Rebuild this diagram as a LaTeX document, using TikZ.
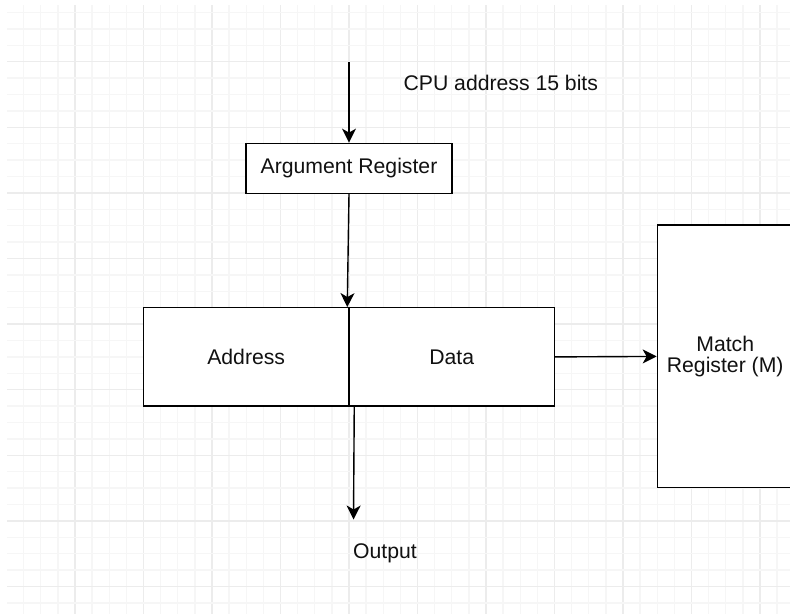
\documentclass[tikz,border=0pt]{standalone}
\usepackage{fontspec}
\setmainfont{Liberation Sans}
\usetikzlibrary{arrows.meta}
\definecolor{gridminor}{HTML}{F6F6F6}
\definecolor{gridmajor}{HTML}{ECECEC}
\definecolor{txt}{HTML}{111111}
\tikzset{
  box/.style={draw=black, line width=1.4pt, fill=white, inner sep=0pt, text=txt,
    font=\fontsize{21.2}{24.5}\selectfont, align=center},
  label/.style={text=txt, inner sep=0pt, font=\fontsize{21.2}{24.5}\selectfont},
  conn/.style={draw=black, line width=1.4pt, -{Stealth[length=14pt,width=14pt,inset=4pt]}},
  plain/.style={draw=black, line width=1.4pt}
}
\begin{document}
\begin{tikzpicture}[x=1pt,y=-1pt]
\useasboundingbox (0,0) rectangle (790,614);
\clip (0,0) rectangle (790,614);
\fill[white] (0,0) rectangle (790,614);
% grid
\begin{scope}
\clip (7,5) rectangle (790,614);
\foreach \k in {-3,...,41}{
  \pgfmathsetmacro{\xx}{75+17.125*\k}
  \pgfmathtruncatemacro{\mm}{mod(\k+40,4)}
  \ifnum\mm=0
    \draw[gridmajor, line width=1.3pt] (\xx,0) -- (\xx,614);
  \else
    \draw[gridminor, line width=1.3pt] (\xx,0) -- (\xx,614);
  \fi
}
\foreach \k in {-3,...,33}{
  \pgfmathsetmacro{\yy}{61.7+16.4*\k}
  \pgfmathtruncatemacro{\mm}{mod(\k+40,4)}
  \ifnum\mm=0
    \draw[gridmajor, line width=1.3pt] (0,\yy) -- (790,\yy);
  \else
    \draw[gridminor, line width=1.3pt] (0,\yy) -- (790,\yy);
  \fi
}
\end{scope}
% nodes
\coordinate (cpuin) at (349,62);
\node[label] (cpu) at (500.8,83.3) {CPU address 15 bits};
\node[box, minimum width=206, minimum height=50] (arg) at (349,168.3) {Argument Register};
\node[box, minimum width=205.7, minimum height=98.3] (addr) at (246.2,356.9) {Address};
\node[box, minimum width=205.3, minimum height=98.3] (data) at (451.65,356.9) {Data};
\node[box, minimum width=135.7, minimum height=262.7] (match) at (725.2,356.4) {Match\\[-3.5pt]Register (M)};
\coordinate (outend) at (353.5,519.5);
\node[label] (out) at (385,553.3) {Output};
% connectors
\draw[conn] (cpuin) -- (arg.north);
\draw[conn] (arg.south) -- ([xshift=-2.5]addr.north east);
\draw[conn] (data.east) -- (match.west);
\draw[conn] ([xshift=4.5]addr.south east) -- (outend);
\end{tikzpicture}
\end{document}
